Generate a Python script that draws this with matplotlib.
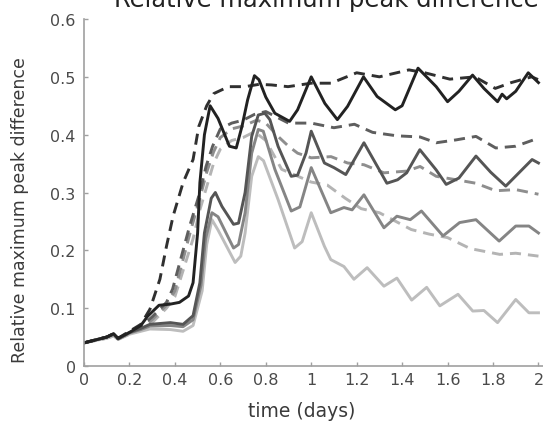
import matplotlib
matplotlib.use("Agg")
import matplotlib.pyplot as plt

# ---- data ----
xA = [0, 0.05, 0.1, 0.13, 0.15, 0.2, 0.25, 0.28, 0.33, 0.38, 0.42, 0.46, 0.48, 0.5, 0.51, 0.53, 0.555,
      0.59, 0.64, 0.67, 0.695, 0.72, 0.75, 0.77, 0.80, 0.84, 0.905, 0.94, 1.0, 1.06, 1.115, 1.16, 1.23,
      1.29, 1.37, 1.40, 1.47, 1.55, 1.60, 1.65, 1.71, 1.76, 1.82, 1.84, 1.86, 1.9, 1.955, 2.0]
yA = [0.04, 0.045, 0.05, 0.056, 0.048, 0.058, 0.07, 0.086, 0.105, 0.107, 0.11, 0.121, 0.144, 0.23, 0.317,
      0.40, 0.45, 0.428, 0.38, 0.377, 0.414, 0.46, 0.502, 0.495, 0.465, 0.437, 0.423, 0.443, 0.5, 0.454,
      0.426, 0.449, 0.5, 0.466, 0.443, 0.45, 0.515, 0.483, 0.457, 0.475, 0.503, 0.48, 0.457, 0.47, 0.462,
      0.475, 0.507, 0.49]

xB = [0, 0.05, 0.1, 0.13, 0.15, 0.2, 0.25, 0.29, 0.334, 0.363, 0.392, 0.436, 0.48, 0.505, 0.54, 0.571,
      0.636, 0.709, 0.77, 0.825, 0.898, 1.0, 1.087, 1.2, 1.3, 1.43, 1.5, 1.61, 1.72, 1.81, 1.88, 1.97, 2.0]
yB = [0.04, 0.045, 0.05, 0.056, 0.048, 0.06, 0.072, 0.098, 0.15, 0.207, 0.259, 0.317, 0.357, 0.414, 0.45,
      0.471, 0.483, 0.483, 0.487, 0.486, 0.483, 0.489, 0.489, 0.507, 0.50, 0.512, 0.507, 0.496, 0.50,
      0.48, 0.49, 0.50, 0.495]

xC = [0, 0.05, 0.1, 0.13, 0.15, 0.2, 0.25, 0.29, 0.38, 0.436, 0.48, 0.51, 0.53, 0.56, 0.578, 0.607, 0.658,
      0.68, 0.709, 0.738, 0.767, 0.796, 0.818, 0.854, 0.912, 0.94, 0.977, 1.0, 1.058, 1.1, 1.152, 1.232,
      1.333, 1.38, 1.42, 1.478, 1.55, 1.594, 1.65, 1.725, 1.79, 1.856, 1.972, 2.0]
yC = [0.04, 0.045, 0.05, 0.055, 0.047, 0.058, 0.065, 0.072, 0.075, 0.072, 0.087, 0.144, 0.23, 0.29, 0.30,
      0.276, 0.245, 0.247, 0.30, 0.397, 0.434, 0.437, 0.426, 0.38, 0.328, 0.33, 0.368, 0.406, 0.351, 0.343,
      0.331, 0.386, 0.316, 0.322, 0.334, 0.374, 0.339, 0.314, 0.325, 0.363, 0.335, 0.311, 0.357, 0.351]

xD = [0, 0.05, 0.1, 0.13, 0.15, 0.2, 0.25, 0.3, 0.363, 0.39, 0.436, 0.465, 0.51, 0.537, 0.566, 0.6, 0.65,
      0.7, 0.75, 0.8, 0.85, 0.9, 1.0, 1.1, 1.19, 1.27, 1.377, 1.479, 1.55, 1.638, 1.725, 1.812, 1.9, 2.0]
yD = [0.04, 0.045, 0.05, 0.055, 0.047, 0.058, 0.068, 0.085, 0.11, 0.133, 0.2, 0.242, 0.3, 0.345, 0.38,
      0.41, 0.42, 0.425, 0.435, 0.44, 0.43, 0.42, 0.42, 0.412, 0.418, 0.404, 0.398, 0.396, 0.386, 0.391,
      0.397, 0.377, 0.38, 0.394]

xE = [0, 0.05, 0.1, 0.13, 0.15, 0.2, 0.25, 0.29, 0.38, 0.436, 0.48, 0.515, 0.535, 0.563, 0.59, 0.658, 0.68,
      0.709, 0.738, 0.767, 0.789, 0.84, 0.912, 0.95, 1.0, 1.086, 1.144, 1.18, 1.232, 1.32, 1.377, 1.436,
      1.485, 1.58, 1.653, 1.725, 1.827, 1.9, 1.958, 2.0]
yE = [0.04, 0.045, 0.05, 0.055, 0.047, 0.057, 0.063, 0.069, 0.07, 0.068, 0.08, 0.14, 0.22, 0.265, 0.258,
      0.204, 0.21, 0.265, 0.368, 0.409, 0.406, 0.34, 0.268, 0.275, 0.343, 0.265, 0.274, 0.27, 0.296, 0.239,
      0.259, 0.253, 0.268, 0.225, 0.248, 0.253, 0.216, 0.242, 0.242, 0.23]

xF = [0, 0.05, 0.1, 0.13, 0.15, 0.2, 0.25, 0.3, 0.363, 0.4, 0.44, 0.47, 0.51, 0.54, 0.57, 0.6, 0.65, 0.7,
      0.76, 0.8, 0.854, 0.9, 0.94, 1.0, 1.087, 1.16, 1.232, 1.32, 1.42, 1.479, 1.55, 1.638, 1.725, 1.812,
      1.9, 2.0]
yF = [0.04, 0.045, 0.05, 0.055, 0.047, 0.057, 0.065, 0.08, 0.105, 0.13, 0.19, 0.235, 0.29, 0.335, 0.37,
      0.395, 0.41, 0.415, 0.425, 0.42, 0.397, 0.38, 0.368, 0.36, 0.362, 0.351, 0.348, 0.334, 0.337, 0.345,
      0.328, 0.322, 0.316, 0.303, 0.305, 0.297]

xG = [0, 0.05, 0.1, 0.13, 0.15, 0.2, 0.25, 0.29, 0.38, 0.436, 0.48, 0.52, 0.54, 0.563, 0.59, 0.665, 0.69,
      0.709, 0.738, 0.767, 0.79, 0.854, 0.927, 0.96, 1.0, 1.058, 1.086, 1.144, 1.188, 1.246, 1.32, 1.377,
      1.442, 1.508, 1.566, 1.646, 1.711, 1.76, 1.82, 1.9, 1.958, 2.0]
yG = [0.04, 0.044, 0.048, 0.052, 0.046, 0.055, 0.06, 0.064, 0.063, 0.06, 0.07, 0.13, 0.21, 0.253, 0.235,
      0.179, 0.19, 0.23, 0.328, 0.362, 0.355, 0.288, 0.204, 0.215, 0.265, 0.207, 0.184, 0.172, 0.15, 0.17,
      0.138, 0.152, 0.114, 0.136, 0.104, 0.124, 0.095, 0.096, 0.075, 0.115, 0.092, 0.092]

xH = [0, 0.05, 0.1, 0.13, 0.15, 0.2, 0.25, 0.3, 0.363, 0.4, 0.44, 0.48, 0.51, 0.54, 0.57, 0.6, 0.65, 0.7,
      0.75, 0.8, 0.87, 0.93, 1.0, 1.07, 1.15, 1.22, 1.3, 1.44, 1.52, 1.6, 1.7, 1.83, 1.9, 2.0]
yH = [0.04, 0.044, 0.048, 0.052, 0.046, 0.055, 0.062, 0.075, 0.1, 0.12, 0.17, 0.22, 0.27, 0.31, 0.35,
      0.375, 0.39, 0.395, 0.405, 0.39, 0.34, 0.33, 0.318, 0.313, 0.29, 0.272, 0.265, 0.236, 0.228, 0.222,
      0.203, 0.193, 0.195, 0.19]

xticks = [0, 0.2, 0.4, 0.6, 0.8, 1, 1.2, 1.4, 1.6, 1.8, 2]
xtick_labels = ["0", "0.2", "0.4", "0.6", "0.8", "1", "1.2", "1.4", "1.6", "1.8", "2"]
yticks = [0, 0.1, 0.2, 0.3, 0.4, 0.5, 0.6]
ytick_labels = ["0", "0.1", "0.2", "0.3", "0.4", "0.5", "0.6"]

title = "Relative maximum peak difference"
xlabel = "time (days)"
ylabel = "Relative maximum peak difference"

# ---- figure ----
plt.rcParams['font.family'] = ['DejaVu Sans']
fig = plt.figure(figsize=(5.43, 4.27), dpi=100)
ax = fig.add_axes([84 / 543, 60 / 427, 459 / 543, 347 / 427])

dash = (3.8, 2.4)
series = [
    (xH, yH, '#b4b4b4', True),
    (xG, yG, '#bdbdbd', False),
    (xF, yF, '#8e8e8e', True),
    (xE, yE, '#858585', False),
    (xD, yD, '#5e5e5e', True),
    (xC, yC, '#555555', False),
    (xB, yB, '#303030', True),
    (xA, yA, '#222222', False),
]
for xs, ys, c, dashed in series:
    if dashed:
        ax.plot(xs, ys, color=c, lw=2.1, dashes=dash, solid_joinstyle='round')
    else:
        ax.plot(xs, ys, color=c, lw=2.1, solid_joinstyle='round')

ax.set_xlim(0, 2.02)
ax.set_ylim(0, 0.6)
ax.set_xticks(xticks)
ax.set_xticklabels(xtick_labels)
ax.set_yticks(yticks)
ax.set_yticklabels(ytick_labels)

for s in ['top', 'right']:
    ax.spines[s].set_visible(False)
for s in ['left', 'bottom']:
    ax.spines[s].set_color('#a0a0a0')
    ax.spines[s].set_linewidth(1.2)

ax.tick_params(axis='both', direction='in', length=3, width=1, color='#a0a0a0',
               labelcolor='#4a4a4a', labelsize=11.5)
ax.tick_params(axis='x', pad=4)
ax.tick_params(axis='y', pad=6)

fig.text(326 / 543, 1 - 7 / 427, title, ha='center', va='baseline', fontsize=17.5, color='#222222')
fig.text(302 / 543, 1 - 412 / 427, xlabel, ha='center', va='center', fontsize=13.5, color='#3a3a3a')
fig.text(20 / 543, 1 - 210 / 427, ylabel, ha='center', va='center', rotation=90, fontsize=12.5,
         color='#3a3a3a')

fig.savefig("out.png", dpi=100)
